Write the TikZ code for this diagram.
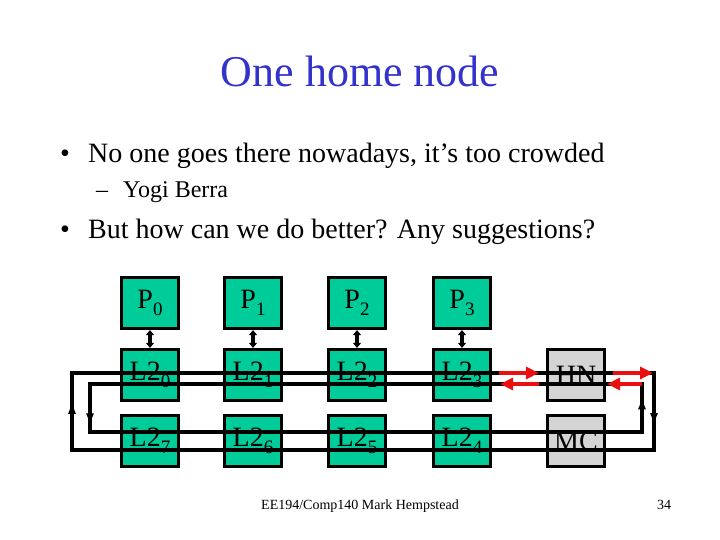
\documentclass[tikz,border=0pt]{standalone}
\usepackage{fontspec}
\setmainfont{Liberation Serif}
\usepackage{tikz}
\usetikzlibrary{
	arrows.meta, positioning, calc, decorations.markings
}
\definecolor{cellgreen}    {RGB}{0,  204, 153}
\definecolor{hubgray}      {RGB}{212, 212, 212}
\definecolor{titleblue}    {RGB}{51,  51,  204}
\definecolor{arrowred}     {RGB}{235, 16,  16}
\newcommand{\lblsub}[2]{#1\raisebox{-7pt}{\fontsize{19}{19}\selectfont #2}}

\begin{document}
\begin{tikzpicture}[x=1pt,y=-1pt,
	cell/.style={draw=black,line width=3.2pt,fill=cellgreen,minimum width=57pt,minimum height=51pt,inner sep=0pt,font=\fontsize{28}{28}\selectfont},
	hub/.style={cell,fill=hubgray},
	link/.style={line width=3.4pt,{Triangle[length=5pt,width=8pt]}-{Triangle[length=5pt,width=8pt]}},
	ring/.style={line width=3.2pt,line join=miter},
	midarrow/.style={postaction={decorate},decoration={markings,mark=at position #1 with {\arrow{Triangle[length=10pt,width=7pt]}}}},
	redarr/.style={draw=arrowred,line width=4.6pt,-{Triangle[length=13pt,width=12pt]}},
	txt/.style={inner sep=0pt,anchor=base west}]
	\useasboundingbox (0,0) rectangle (720,540);
	\node[txt,anchor=base,text=titleblue,font=\fontsize{44}{44}\selectfont] (title) at (360,87) {One home node};
	\node[txt,font=\fontsize{28}{28}\selectfont] (b1mark) at (60,163) {•};
	\node[txt,font=\fontsize{28}{28}\selectfont] (b1) at (88,163) {No one goes there nowadays, it’s too crowded};
	\node[txt,font=\fontsize{24}{24}\selectfont] (b1dash) at (96,198) {–};
	\node[txt,font=\fontsize{24}{24}\selectfont] (b1sub) at (123,198) {Yogi Berra};
	\node[txt,font=\fontsize{28}{28}\selectfont] (b2mark) at (60,238) {•};
	\node[txt,font=\fontsize{28}{28}\selectfont] (b2) at (88,238) {But how can we do better? Any suggestions?};
	\foreach \i/\x in {0/150,1/253,2/357,3/462}{
		\node[cell] (P\i) at (\x,303) {\lblsub{P}{\i}};
		\node[cell] (L\i) at (\x,375) {\lblsub{L2}{\i}};
		\draw[link] (P\i) -- (L\i);
	}
	\foreach \i/\x in {7/150,6/253,5/357,4/462}{\node[cell] (L\i) at (\x,441) {\lblsub{L2}{\i}};}
	\node[hub] (HN) at (576,375) {HN};
	\node[hub] (MC) at (576,441) {MC};
	\coordinate (oNW) at (72,373);  \coordinate (oNE) at (654,373);
	\coordinate (oSE) at (654,450); \coordinate (oSW) at (72,450);
	\coordinate (iNW) at (90,384);  \coordinate (iNE) at (642,384);
	\coordinate (iSE) at (642,432); \coordinate (iSW) at (90,432);
	\draw[ring] (oNW) -- (oNE) -- (oSE) -- (oSW) -- cycle;
	\draw[ring] (iNW) -- (iNE) -- (iSE) -- (iSW) -- cycle;
	\draw[ring,midarrow=0.6] (oSW) -- (oNW);
	\draw[ring,midarrow=0.65] (oNE) -- (oSE);
	\draw[ring,midarrow=0.82] (iNW) -- (iSW);
	\draw[ring,midarrow=0.68] (iSE) -- (iNE);
	\draw[redarr,shorten <=7pt,shorten >=7pt] (L3.east |- oNW) -- (HN.west |- oNW);
	\draw[redarr,shorten <=7pt,shorten >=1pt] (HN.east |- oNE) -- (oNE);
	\draw[redarr,shorten <=7pt,shorten >=8pt] (HN.west |- iNW) -- (L3.east |- iNW);
	\draw[redarr,shorten >=1pt] (iNE) -- (HN.east |- iNE);
	\node[txt,anchor=base,font=\fontsize{14}{14}\selectfont] (footer) at (360,509) {EE194/Comp140 Mark Hempstead};
	\node[txt,font=\fontsize{14}{14}\selectfont] (pagenum) at (657,509) {34};
\end{tikzpicture}
\end{document}
